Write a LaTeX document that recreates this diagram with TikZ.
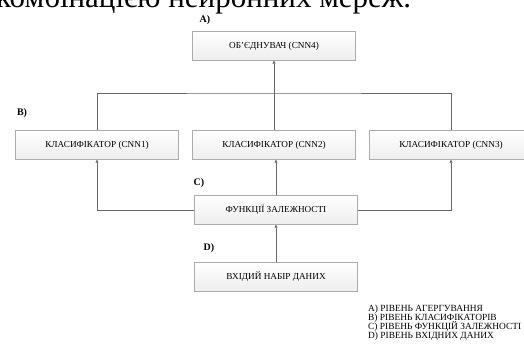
\documentclass[tikz,border=0pt]{standalone}
\usepackage{fontspec}
\setmainfont{Liberation Serif}
\usetikzlibrary{arrows.meta,positioning}

\begin{document}
\begin{tikzpicture}
  [
    x = 1pt, y = -1pt,
    level box/.style = {draw=gray!65,top color=white,bottom color=gray!14,
                        minimum width=163pt,minimum height=29pt,inner sep=0pt,
                        font=\fontsize{9.2}{10}\selectfont},
    level tag/.style = {font=\bfseries\fontsize{10}{11}\selectfont},
    link/.style = {draw=gray!80!black,line width=0.5pt},
    legend line/.style = {anchor=west,inner sep=0pt,font=\fontsize{9.4}{10}\selectfont},
    > = {Triangle[width=3pt,length=3pt]},
  ]

  \useasboundingbox (0,0) rectangle (524,348);

  % page text above the figure, cut at the top
  \node[anchor=base west,inner sep=0pt,font=\fontsize{31}{34}\selectfont] (pagetext) at (-4,8) {комбінацією нейронних мереж.};

  \node[level tag] (tagA) at (205,20)  {A)};
  \node[level tag] (tagB) at (22,113)  {B)};
  \node[level tag] (tagC) at (199,183) {C)};
  \node[level tag] (tagD) at (209,248) {D)};

  \node[level box] (cnn4)  at (274,46)  {ОБ'ЄДНУВАЧ (CNN4)};
  \node[level box] (cnn1)  at (97,145)  {КЛАСИФІКАТОР (CNN1)};
  \node[level box] (cnn2)  at (274,145) {КЛАСИФІКАТОР (CNN2)};
  \node[level box] (cnn3)  at (451,145) {КЛАСИФІКАТОР (CNN3)};
  \node[level box] (func)  at (276,210) {ФУНКЦІЇ ЗАЛЕЖНОСТІ};
  \node[level box] (input) at (276,277) {ВХІДИЙ НАБІР ДАНИХ};

  \coordinate (join) at (274,93);

  \draw[link] (cnn1.north) |- (join) -| (cnn3.north);
  \draw[link,->] (cnn2.north) -- (cnn4.south);
  \draw[link,->] (func.west) -| (cnn1.south);
  \draw[link,->] (func.east) -| (cnn3.south);
  \draw[link,->] (func.north) -- (func.north |- cnn2.south);
  \draw[link,->] (input.north) -- (func.south);

  \node[legend line] (legA) at (368,309) {A) РІВЕНЬ АГЕРГУВАННЯ};
  \node[legend line] (legB) at (368,318) {B) РІВЕНЬ КЛАСИФІКАТОРІВ};
  \node[legend line] (legC) at (368,327) {C) РІВЕНЬ ФУНКЦІЙ ЗАЛЕЖНОСТІ};
  \node[legend line] (legD) at (368,336) {D) РІВЕНЬ ВХІДНИХ ДАНИХ};

\end{tikzpicture}
\end{document}
